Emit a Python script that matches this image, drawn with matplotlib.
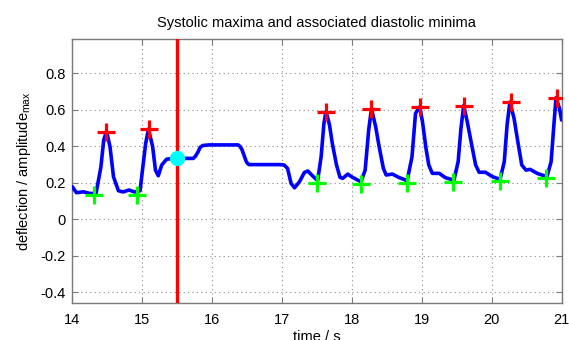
import matplotlib
matplotlib.use("Agg")
import matplotlib.pyplot as plt

# pulse trace (time in s, normalised deflection)
t_trace = [14.00, 14.06, 14.16, 14.25, 14.34, 14.41, 14.45, 14.49, 14.54, 14.59,
           14.66, 14.73, 14.81, 14.89, 14.97, 15.01, 15.05, 15.09, 15.15, 15.19,
           15.23, 15.28, 15.35, 15.49, 15.73, 15.76, 15.80, 15.83, 15.87, 15.96,
           16.37, 16.40, 16.43, 16.49, 16.51, 16.53, 16.96, 17.03, 17.08, 17.13,
           17.18, 17.25, 17.32, 17.37, 17.44, 17.51, 17.56, 17.60, 17.63, 17.68,
           17.72, 17.78, 17.83, 17.87, 17.94, 18.01, 18.13, 18.19, 18.24, 18.28,
           18.34, 18.39, 18.45, 18.49, 18.58, 18.67, 18.79, 18.86, 18.91, 18.97,
           19.01, 19.06, 19.10, 19.15, 19.25, 19.34, 19.46, 19.52, 19.56, 19.60,
           19.65, 19.71, 19.77, 19.82, 19.91, 20.01, 20.12, 20.18, 20.22, 20.26,
           20.32, 20.37, 20.43, 20.49, 20.55, 20.65, 20.79, 20.85, 20.89, 20.92,
           20.97, 21.00]
v_trace = [0.179, 0.146, 0.151, 0.142, 0.142, 0.288, 0.435, 0.483, 0.398, 0.233,
           0.157, 0.150, 0.161, 0.150, 0.157, 0.288, 0.416, 0.495, 0.398, 0.270,
           0.239, 0.298, 0.330, 0.334, 0.334, 0.345, 0.370, 0.395, 0.405, 0.408,
           0.408, 0.400, 0.380, 0.316, 0.305, 0.300, 0.300, 0.298, 0.279, 0.197,
           0.173, 0.206, 0.257, 0.265, 0.237, 0.212, 0.343, 0.526, 0.592, 0.517,
           0.416, 0.298, 0.230, 0.225, 0.248, 0.230, 0.206, 0.270, 0.489, 0.606,
           0.508, 0.398, 0.280, 0.243, 0.248, 0.230, 0.212, 0.343, 0.580, 0.617,
           0.535, 0.389, 0.298, 0.252, 0.252, 0.228, 0.215, 0.316, 0.498, 0.625,
           0.535, 0.416, 0.298, 0.258, 0.258, 0.234, 0.219, 0.316, 0.517, 0.643,
           0.553, 0.434, 0.298, 0.270, 0.274, 0.252, 0.234, 0.316, 0.520, 0.667,
           0.608, 0.544]

# systolic maxima
t_max = [14.48, 15.10, 17.63, 18.28, 18.97, 19.60, 20.27, 20.93]
v_max = [0.480, 0.495, 0.590, 0.604, 0.617, 0.623, 0.641, 0.667]

# diastolic minima
t_min = [14.31, 14.93, 17.50, 18.13, 18.79, 19.45, 20.12, 20.78]
v_min = [0.133, 0.133, 0.201, 0.194, 0.201, 0.206, 0.210, 0.225]

t_cursor = 15.5
v_cursor = 0.334

plt.rcParams['font.family'] = ['Liberation Sans', 'DejaVu Sans']
plt.rcParams['font.size'] = 10

fig = plt.figure(figsize=(5.69, 3.40), dpi=100)
ax = fig.add_axes([0.127, 0.108, 0.860, 0.776])

ax.plot(t_trace, v_trace, color='#0000ff', lw=2.6, solid_joinstyle='round',
        solid_capstyle='round', zorder=3)
ax.plot(t_max, v_max, '+', color='#ff0000', ms=13, mew=2.3, zorder=4)
ax.plot(t_min, v_min, '+', color='#00ff00', ms=13, mew=2.3, zorder=4)
ax.axvline(t_cursor, color='#ff0000', lw=2.4, zorder=5)
ax.plot([t_cursor], [v_cursor], 'o', color='#00ffff', mec='#00ffff', ms=10, zorder=6)

ax.set_xlim(14, 21)
ax.set_ylim(-0.46, 0.986)
ax.set_xticks([14, 15, 16, 17, 18, 19, 20, 21])
ax.set_yticks([-0.4, -0.2, 0, 0.2, 0.4, 0.6, 0.8])
ax.set_yticklabels(['-0.4', '-0.2', '0', '0.2', '0.4', '0.6', '0.8'])

ax.grid(True, color='#8a8a8a', linestyle=(0, (1, 3)), lw=0.8)
ax.set_axisbelow(True)
for s in ax.spines.values():
    s.set_color('#7a7a7a')
    s.set_linewidth(1.0)
ax.tick_params(direction='in', length=4, width=0.8, color='#7a7a7a',
               top=True, right=True, labelsize=10.5)
ax.tick_params(axis='x', pad=7)
ax.tick_params(axis='y', pad=5)

ax.set_title('Systolic maxima and associated diastolic minima', fontsize=10.5, pad=9)
ax.set_xlabel('time / s', fontsize=10.5, labelpad=2)
ax.set_ylabel('deflection / amplitude$_{\\mathregular{max}}$', fontsize=10.5, labelpad=5)

fig.savefig('out.png', dpi=100)
